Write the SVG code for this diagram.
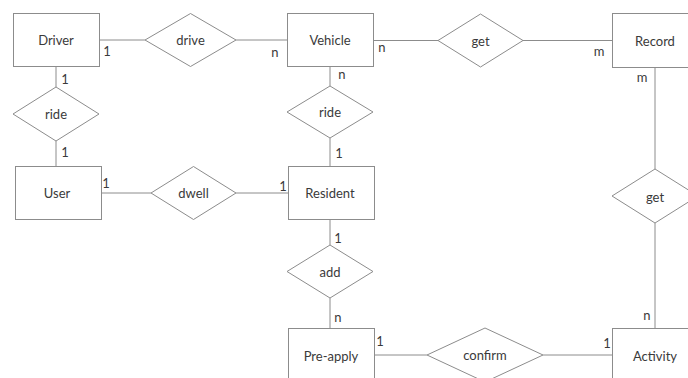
<svg xmlns="http://www.w3.org/2000/svg" width="688" height="378" viewBox="0 0 688 378">
<style>
.e{fill:#fff;stroke:#8c8c8c;stroke-width:1}
.r{fill:#fff;stroke:#8c8c8c;stroke-width:1}
.c{fill:none;stroke:#8c8c8c;stroke-width:1}
text{font-family:Lato,"Open Sans","Liberation Sans",sans-serif;fill:#3a3a3a}
.t{font-size:13px;text-anchor:middle;dominant-baseline:central}
.l{font-size:13px;text-anchor:middle;dominant-baseline:central}
</style>
<rect width="688" height="378" fill="#fff"/>
<g id="connectors">
<line class="c" x1="99" y1="40" x2="145" y2="40"/>
<line class="c" x1="236" y1="40" x2="287" y2="40"/>
<line class="c" x1="373" y1="40.5" x2="438" y2="40.5"/>
<line class="c" x1="523" y1="40.5" x2="612" y2="40.5"/>
<line class="c" x1="56" y1="66" x2="56" y2="87"/>
<line class="c" x1="56" y1="141" x2="56" y2="166"/>
<line class="c" x1="330" y1="67" x2="330" y2="86"/>
<line class="c" x1="330" y1="138" x2="330" y2="166"/>
<line class="c" x1="101" y1="193" x2="151" y2="193"/>
<line class="c" x1="236" y1="193" x2="288" y2="193"/>
<line class="c" x1="330" y1="220" x2="330" y2="245"/>
<line class="c" x1="330" y1="298" x2="330" y2="328"/>
<line class="c" x1="655" y1="68" x2="655" y2="169"/>
<line class="c" x1="655" y1="223" x2="655" y2="328"/>
<line class="c" x1="374" y1="355" x2="427" y2="355"/>
<line class="c" x1="543" y1="355" x2="612" y2="355"/>
<text class="l" x="107" y="51">1</text>
<text class="l" x="275" y="52">n</text>
<text class="l" x="65" y="79">1</text>
<text class="l" x="65" y="152">1</text>
<text class="l" x="382" y="47">n</text>
<text class="l" x="599" y="51">m</text>
<text class="l" x="342" y="74">n</text>
<text class="l" x="642" y="77">m</text>
<text class="l" x="339" y="153">1</text>
<text class="l" x="106" y="183">1</text>
<text class="l" x="283" y="186">1</text>
<text class="l" x="338" y="238">1</text>
<text class="l" x="338" y="317">n</text>
<text class="l" x="647" y="315">n</text>
<text class="l" x="380" y="341">1</text>
<text class="l" x="607" y="343">1</text>
</g>
<g id="Driver"><rect class="r" x="13.5" y="13.5" width="86" height="53"/><text class="t" x="56" y="40">Driver</text></g>
<g id="drive"><polygon class="e" points="190.5,13.5 236,40 190.5,66.5 145,40"/><text class="t" x="190.5" y="40">drive</text></g>
<g id="Vehicle"><rect class="r" x="287.5" y="13.5" width="86" height="53"/><text class="t" x="330" y="40">Vehicle</text></g>
<g id="get1"><polygon class="e" points="480.5,14 523,40.5 480.5,67 438,40.5"/><text class="t" x="480.5" y="40.5">get</text></g>
<g id="Record"><rect class="r" x="612.5" y="13.5" width="86" height="54"/><text class="t" x="655" y="41">Record</text></g>
<g id="ride1"><polygon class="e" points="56,87 99,114 56,141 13,114"/><text class="t" x="56" y="114">ride</text></g>
<g id="ride2"><polygon class="e" points="330,86 373,112 330,138 287,112"/><text class="t" x="330" y="112">ride</text></g>
<g id="User"><rect class="r" x="15.5" y="166.5" width="86" height="53"/><text class="t" x="57" y="193">User</text></g>
<g id="dwell"><polygon class="e" points="193.5,166.5 236,193 193.5,219.5 151,193"/><text class="t" x="193.5" y="193">dwell</text></g>
<g id="Resident"><rect class="r" x="288.5" y="166.5" width="86" height="53"/><text class="t" x="330" y="193">Resident</text></g>
<g id="get2"><polygon class="e" points="655,169 698,196 655,223 612,196"/><text class="t" x="655" y="197">get</text></g>
<g id="add"><polygon class="e" points="330,245 373,271.5 330,298 287,271.5"/><text class="t" x="330" y="271.5">add</text></g>
<g id="Pre-apply"><rect class="r" x="288.5" y="328.5" width="86" height="60"/><text class="t" x="331" y="356">Pre-apply</text></g>
<g id="confirm"><polygon class="e" points="485,328 543,355 485,382 427,355"/><text class="t" x="485" y="355">confirm</text></g>
<g id="Activity"><rect class="r" x="612.5" y="328.5" width="86" height="60"/><text class="t" x="655" y="356">Activity</text></g>
</svg>
